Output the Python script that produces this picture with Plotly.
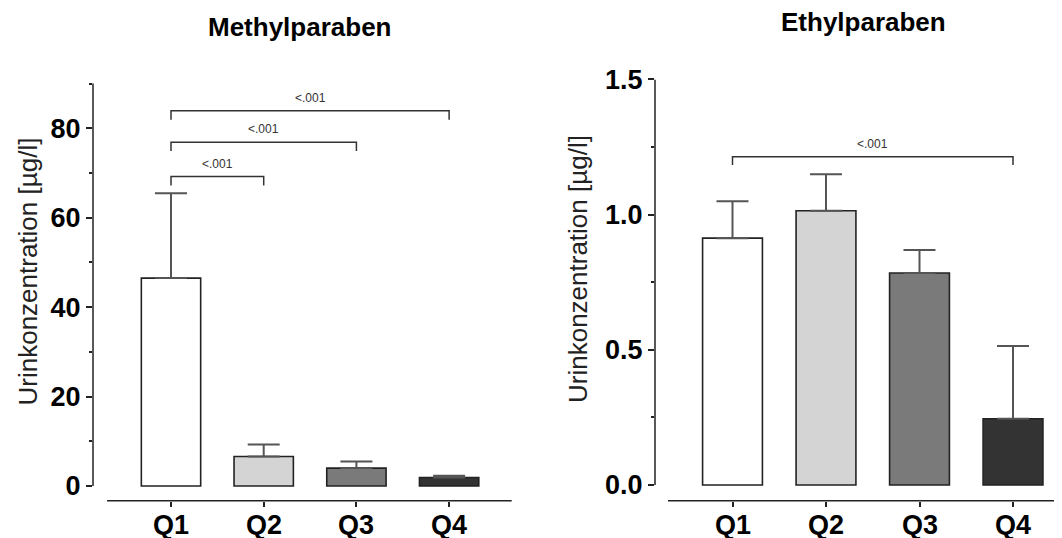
import plotly.graph_objects as go

# ---------------- data ----------------
categories = ["Q1", "Q2", "Q3", "Q4"]
bar_colors = ["#ffffff", "#d4d4d4", "#7a7a7a", "#333333"]

methyl_mean = [46.5, 6.6, 4.0, 1.9]
methyl_err_top = [65.5, 9.3, 5.5, 2.3]

ethyl_mean = [0.913, 1.014, 0.784, 0.245]
ethyl_err_top = [1.049, 1.149, 0.869, 0.514]

methyl_pairs = [(0, 1), (0, 2), (0, 3)]
methyl_bracket_y = [69.2, 76.9, 83.9]
methyl_labels = ["<.001", "<.001", "<.001"]

ethyl_pairs = [(0, 3)]
ethyl_bracket_y = [1.214]
ethyl_labels = ["<.001"]

left_yticks = [0, 20, 40, 60, 80]
left_yminor = [10, 30, 50, 70, 90]
right_yticks = [0.0, 0.5, 1.0, 1.5]
right_yminor = [0.25, 0.75, 1.25]

# ---------------- figure ----------------
W, H = 1062, 538
OFF = 8  # page body margin offset


def px(x):
    return (x - OFF) / W


def py(y):
    return 1 - (y - OFF) / H


FONT = "Liberation Sans, Arial, sans-serif"
AX = "#222222"
xs = list(range(len(categories)))

fig = go.Figure()


def add_bars(means, tops, xa, ya):
    plus = [t - m for t, m in zip(tops, means)]
    fig.add_trace(go.Bar(
        x=xs, y=means, width=0.64,
        marker=dict(color=bar_colors, line=dict(color=AX, width=1.6)),
        error_y=dict(type="data", symmetric=False, array=plus,
                     arrayminus=[0] * len(plus), color="#555555",
                     thickness=2, width=16),
        xaxis=xa, yaxis=ya, showlegend=False, hoverinfo="skip",
    ))


add_bars(methyl_mean, methyl_err_top, "x", "y")
add_bars(ethyl_mean, ethyl_err_top, "x2", "y2")

xaxis_common = dict(
    tickmode="array", tickvals=xs, ticktext=categories, showticklabels=False,
    showline=False, showgrid=False, zeroline=False, automargin=False,
    ticks="outside", ticklen=5, tickwidth=1.5, tickcolor=AX,
    fixedrange=True,
)
yaxis_common = dict(
    showline=False, showgrid=False, zeroline=False, automargin=False,
    ticks="outside", ticklen=6, tickwidth=1.5, tickcolor=AX,
    tickfont=dict(family=FONT, size=27, color="#000", weight="bold"),
    fixedrange=True,
)

fig.update_layout(
    width=W, height=H,
    margin=dict(l=0, r=0, t=0, b=0, pad=0, autoexpand=False),
    paper_bgcolor="white", plot_bgcolor="white",
    bargap=0.36,
    xaxis=dict(domain=[px(93), px(511.7)], range=[-0.8414, 3.675], anchor="y", **xaxis_common),
    yaxis=dict(domain=[py(500.7), py(83)], range=[-3.29, 90.13], anchor="x",
               tickvals=left_yticks,
               minor=dict(tickvals=left_yminor, ticks="outside", ticklen=3, tickwidth=1.5, tickcolor=AX),
               **yaxis_common),
    xaxis2=dict(domain=[px(655), px(1062)], range=[-0.8289, 3.524], anchor="y2", **xaxis_common),
    yaxis2=dict(domain=[py(500.7), py(79.4)], range=[-0.058, 1.5], anchor="x2",
                tickvals=right_yticks, tickformat=".1f",
                minor=dict(tickvals=right_yminor, ticks="outside", ticklen=3, tickwidth=1.5, tickcolor=AX),
                **yaxis_common),
)

shapes = []
annotations = []

# axis lines (offset GraphPad style) and category labels
for xa, ya, ytop in [("x", "y", 90), ("x2", "y2", 1.5)]:
    shapes.append(dict(type="line", xref=f"{xa} domain", yref=ya, x0=0, x1=0, y0=0, y1=ytop,
                       line=dict(color=AX, width=1.5)))
    shapes.append(dict(type="line", xref=xa, yref=f"{ya} domain", x0=-0.69, x1=10, y0=0, y1=0,
                       line=dict(color=AX, width=1.5)))
    for xv, cat in zip(xs, categories):
        annotations.append(dict(x=xv, y=0, xref=xa, yref=f"{ya} domain", text=cat,
                                showarrow=False, xanchor="center", yanchor="middle", yshift=-24,
                                font=dict(family=FONT, size=27, color="#000", weight="bold")))


def add_brackets(pairs, heights, labels, drop, xa, ya):
    for (a, b), h, lab in zip(pairs, heights, labels):
        shapes.append(dict(type="path", xref=xa, yref=ya,
                           path=f"M {a},{h - drop} L {a},{h} L {b},{h} L {b},{h - drop}",
                           line=dict(color="#333333", width=1.5)))
        annotations.append(dict(x=(a + b) / 2, y=h, xref=xa, yref=ya, text=lab,
                                showarrow=False, yanchor="middle", yshift=13,
                                font=dict(family=FONT, size=12, color="#333")))


add_brackets(methyl_pairs, methyl_bracket_y, methyl_labels, 2.0, "x", "y")
add_brackets(ethyl_pairs, ethyl_bracket_y, ethyl_labels, 0.031, "x2", "y2")

# titles
annotations.append(dict(x=px(300), y=py(27), xref="paper", yref="paper", text="Methylparaben",
                        showarrow=False, xanchor="center", yanchor="middle",
                        font=dict(family=FONT, size=26, color="#000", weight="bold")))
annotations.append(dict(x=px(863), y=py(22), xref="paper", yref="paper", text="Ethylparaben",
                        showarrow=False, xanchor="center", yanchor="middle",
                        font=dict(family=FONT, size=26, color="#000", weight="bold")))
# y-axis titles
for xc, yc in [(27, 271.5), (578, 269)]:
    annotations.append(dict(x=px(xc), y=py(yc), xref="paper", yref="paper",
                            text="Urinkonzentration [µg/l]", textangle=-90,
                            showarrow=False, xanchor="center", yanchor="middle",
                            font=dict(family=FONT, size=26, color="#222")))

fig.update_layout(shapes=shapes, annotations=annotations)
fig.write_html("out.html")
